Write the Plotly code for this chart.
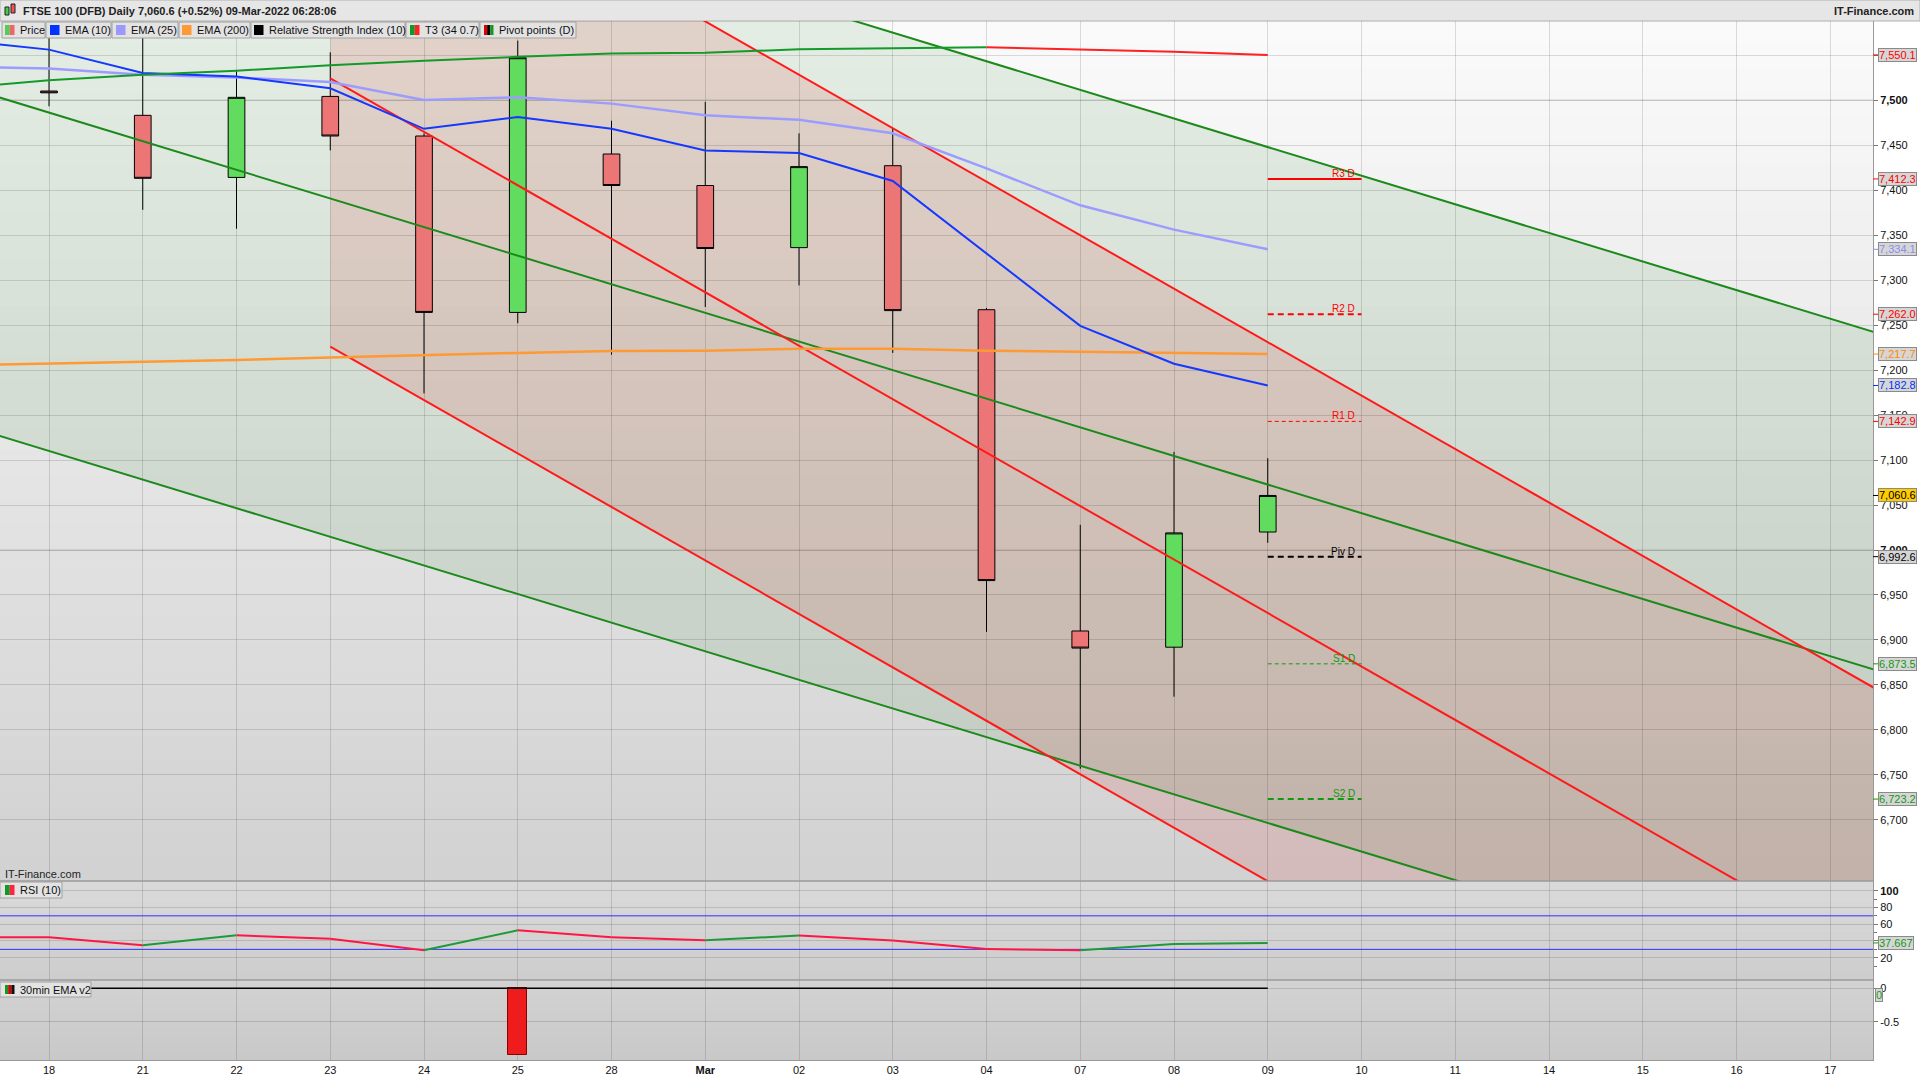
import plotly.graph_objects as go

# ------------------------------------------------------------------ data
x_labels = ["18", "21", "22", "23", "24", "25", "28", "Mar", "02", "03",
            "04", "07", "08", "09", "10", "11", "14", "15", "16", "17"]

# daily candles, 18 Feb .. 09 Mar 2022 (index 0..13)
candle_open = [7510, 7483, 7414, 7504, 7460, 7264, 7440, 7405, 7336, 7427, 7267, 6910, 6892, 7020]
candle_high = [7572, 7575, 7532, 7553, 7463, 7566, 7477, 7498, 7463, 7469, 7269, 7028, 7109, 7102]
candle_low = [7493, 7378, 7357, 7444, 7174, 7252, 7217, 7270, 7294, 7219, 6909, 6757, 6837, 7008]
candle_close = [7508, 7413, 7503, 7460, 7264, 7547, 7405, 7335, 7426, 7266, 6966, 6891, 7019, 7060.6]

# indicator series, 17 Feb .. 09 Mar (index -1..13)
ema10 = [7567, 7556, 7530, 7526, 7513, 7468, 7481, 7468, 7444, 7441, 7410, 7330, 7249, 7207, 7182.8]
ema25 = [7537, 7535, 7528, 7525, 7520, 7500, 7503, 7496, 7483, 7478, 7463, 7424, 7383, 7356, 7334.1]
ema200 = [7205.3, 7207.4, 7209, 7211, 7214, 7216.7, 7219, 7221, 7221.5, 7223.7, 7223.7, 7221.5, 7220, 7219, 7217.7]
t3 = [7513, 7522, 7528, 7532.6, 7538.5, 7543.7, 7548, 7551.8, 7552.6, 7556.3, 7557.4, 7558.5, 7556.3, 7553.7, 7550.1]
t3_turn_index = 11  # position in t3 list where colour turns red (04 Mar)
rsi10 = [44.4, 44.4, 34.8, 46.8, 42.7, 28.9, 52.7, 44.4, 40.8, 46.5, 40.7, 30.4, 29.0, 36.4, 37.667]
rsi_levels = [70, 30]
ema_v2 = [0, 0, 0, 0, 0, -1, 0, 0, 0, 0, 0, 0, 0, 0]
ema_v2_base = [0] * 15

# daily pivot points (drawn over 09 Mar -> 10 Mar)
pivot_names = ["R3 D", "R2 D", "R1 D", "Piv D", "S1 D", "S2 D"]
pivot_levels = [7412.3, 7262.0, 7142.9, 6992.6, 6873.5, 6723.2]

# drawn trend channels: anchor (session index, price)
green_ch_x = [-1, 20]
green_upper = [7892.8, 7225.2]
green_middle = [7517.8, 6850.2]
green_lower = [7141.8, 6474.2]
red_ch_x = [3, 20]
red_upper = [7825, 6815.2]
red_middle = [7524, 6514.2]
red_lower = [7226, 6216.2]

major_levels = [7000, 7500]
price_ticks = list(range(6700, 7551, 50))

# --------------------------------------------------------------- helpers
W_PLOT = 1873.0
TOP, BOTTOM = 21.0, 1060.0
H_PLOT = BOTTOM - TOP


def px(x):
    return x / W_PLOT


def py(y):
    return (BOTTOM - y) / H_PLOT


FONT = "Liberation Sans, Arial, sans-serif"
candle_x = list(range(len(candle_open)))
ind_x = list(range(-1, len(candle_open)))

fig = go.Figure()

# candles
fig.add_trace(go.Candlestick(
    x=candle_x, open=candle_open, high=candle_high, low=candle_low, close=candle_close,
    increasing=dict(fillcolor="#62dc5e", line=dict(color="#000000", width=1)),
    decreasing=dict(fillcolor="#ec7676", line=dict(color="#000000", width=1)),
    whiskerwidth=0, hoverinfo="skip"))

# channel lines
for yy in (green_upper, green_middle, green_lower):
    fig.add_trace(go.Scatter(x=green_ch_x, y=yy, mode="lines",
                             line=dict(color="#1b8a1b", width=2), hoverinfo="skip"))
for yy in (red_upper, red_middle, red_lower):
    fig.add_trace(go.Scatter(x=red_ch_x, y=yy, mode="lines",
                             line=dict(color="#ff1a1a", width=2), hoverinfo="skip"))

# moving averages
fig.add_trace(go.Scatter(x=ind_x, y=ema200, mode="lines",
                         line=dict(color="#ff9933", width=2.5), hoverinfo="skip"))
fig.add_trace(go.Scatter(x=ind_x, y=ema25, mode="lines",
                         line=dict(color="#9c9cff", width=2.5), hoverinfo="skip"))
fig.add_trace(go.Scatter(x=ind_x, y=ema10, mode="lines",
                         line=dict(color="#1438ff", width=2), hoverinfo="skip"))
fig.add_trace(go.Scatter(x=ind_x[:t3_turn_index + 1], y=t3[:t3_turn_index + 1], mode="lines",
                         line=dict(color="#139a2a", width=2), hoverinfo="skip"))
fig.add_trace(go.Scatter(x=ind_x[t3_turn_index:], y=t3[t3_turn_index:], mode="lines",
                         line=dict(color="#ff2020", width=2), hoverinfo="skip"))

annotations = []

# pivot lines
piv_style = [("#ff0000", 2, "solid"), ("#ff0000", 2, "6px,4px"), ("#ff0000", 1, "4px,3px"),
             ("#000000", 2, "6px,4px"), ("#119911", 1, "4px,3px"), ("#119911", 2, "6px,4px")]
piv_x = [candle_x[-1], candle_x[-1] + 1]
for name, lv, (col, w, d) in zip(pivot_names, pivot_levels, piv_style):
    fig.add_trace(go.Scatter(x=piv_x, y=[lv, lv], mode="lines",
                             line=dict(color=col, width=w, dash=d), hoverinfo="skip"))
    annotations.append(dict(x=piv_x[1], y=lv, xref="x", yref="y", text=name, showarrow=False,
                            xanchor="right", yanchor="bottom", xshift=-5, yshift=-2,
                            font=dict(family=FONT, size=10, color=col)))

# RSI panel
for lv in rsi_levels:
    fig.add_trace(go.Scatter(x=[-1, 21], y=[lv, lv], mode="lines", yaxis="y2",
                             line=dict(color="#2f2fff", width=1), hoverinfo="skip"))
rx, ry, gx, gy = [], [], [], []
for i in range(len(rsi10) - 1):
    if rsi10[i + 1] > rsi10[i]:
        gx += [ind_x[i], ind_x[i + 1], None]
        gy += [rsi10[i], rsi10[i + 1], None]
    else:
        rx += [ind_x[i], ind_x[i + 1], None]
        ry += [rsi10[i], rsi10[i + 1], None]
fig.add_trace(go.Scatter(x=rx, y=ry, mode="lines", yaxis="y2",
                         line=dict(color="#ff1744", width=2), hoverinfo="skip"))
fig.add_trace(go.Scatter(x=gx, y=gy, mode="lines", yaxis="y2",
                         line=dict(color="#1f9a3a", width=2), hoverinfo="skip"))

# 30min EMA v2 panel
bar_x = [x for x, v in zip(candle_x, ema_v2) if v != 0]
bar_y = [v for v in ema_v2 if v != 0]
fig.add_trace(go.Bar(x=bar_x, y=bar_y, yaxis="y3", width=0.2,
                     marker=dict(color="#ee1c1c", line=dict(color="#8a0000", width=1)),
                     hoverinfo="skip"))
fig.add_trace(go.Scatter(x=ind_x, y=ema_v2_base, mode="lines", yaxis="y3",
                         line=dict(color="#000000", width=1.5), hoverinfo="skip"))

# ---------------------------------------------------------------- shapes
shapes = []


def gradient(yref, c_top, c_bot, n=36):
    for i in range(n):
        t = (i + 0.5) / n
        c = tuple(round(a + (b - a) * t) for a, b in zip(c_top, c_bot))
        shapes.append(dict(type="rect", xref="x domain", yref=yref + " domain",
                           x0=0, x1=1, y0=1 - (i + 1) / n, y1=1 - i / n + 0.001,
                           fillcolor="rgb(%d,%d,%d)" % c, line=dict(width=0), layer="below"))


gradient("y", (251, 251, 251), (209, 209, 209))
gradient("y2", (218, 218, 218), (205, 205, 205), 10)
gradient("y3", (211, 211, 211), (200, 200, 200), 10)


def channel_path(xs, up, lo):
    pts = [(xs[0], up[0]), (xs[1], up[1]), (xs[1], lo[1]), (xs[0], lo[0])]
    return "M " + " L ".join("%s,%s" % p for p in pts) + " Z"


# channel fills (below the candles, in data coordinates)
shapes.append(dict(type="path", xref="x", yref="y",
                   path=channel_path(green_ch_x, green_upper, green_lower),
                   fillcolor="rgba(0,110,0,0.085)", line=dict(width=0), layer="below"))
shapes.append(dict(type="path", xref="x", yref="y",
                   path=channel_path(red_ch_x, red_upper, red_lower),
                   fillcolor="rgba(210,50,40,0.14)", line=dict(width=0), layer="below"))

for lv in major_levels:
    shapes.append(dict(type="line", xref="x domain", yref="y", x0=0, x1=1, y0=lv, y1=lv,
                       line=dict(color="rgba(0,0,0,0.16)", width=1), layer="below"))

# header bar
shapes.append(dict(type="rect", xref="paper", yref="paper", x0=0, x1=px(1920),
                   y0=py(21), y1=py(0), fillcolor="#e6e6e6",
                   line=dict(color="#b0b0b0", width=1), layer="below"))
# panel separators
for yy in (881, 980):
    shapes.append(dict(type="line", xref="paper", yref="paper", x0=0, x1=1,
                       y0=py(yy), y1=py(yy), line=dict(color="#9a9a9a", width=1.5),
                       layer="above"))
# header icon
shapes.append(dict(type="rect", xref="paper", yref="paper", x0=px(5), x1=px(9),
                   y0=py(15), y1=py(7), fillcolor="#44cc44", line=dict(color="#222", width=1),
                   layer="above"))
shapes.append(dict(type="rect", xref="paper", yref="paper", x0=px(11), x1=px(15),
                   y0=py(13), y1=py(4), fillcolor="#ee5555", line=dict(color="#222", width=1),
                   layer="above"))


def legend_item(x0, x1, y0, y1, sw_x, sw_cols, text_x, text):
    shapes.append(dict(type="rect", xref="paper", yref="paper", x0=px(x0), x1=px(x1),
                       y0=py(y1), y1=py(y0), fillcolor="#e3e3e3",
                       line=dict(color="#a0a0a0", width=1), layer="above"))
    sw_w = 9.5 / len(sw_cols)
    for k, c in enumerate(sw_cols):
        shapes.append(dict(type="rect", xref="paper", yref="paper",
                           x0=px(sw_x + k * sw_w), x1=px(sw_x + (k + 1) * sw_w),
                           y0=py(y1 - 3), y1=py(y0 + 3), fillcolor=c,
                           line=dict(width=0), layer="above"))
    annotations.append(dict(x=px(text_x), y=py((y0 + y1) / 2), xref="paper", yref="paper",
                            text=text, showarrow=False, xanchor="left", yanchor="middle",
                            font=dict(family=FONT, size=11, color="#111")))


legend_rows = [
    (2, 45, 5, ["#55cc55", "#ee6666"], 18, "Price"),
    (46, 111, 50, ["#0033ff"], 63, "EMA (10)"),
    (112, 178, 116, ["#9999ff"], 129, "EMA (25)"),
    (179, 250, 182, ["#ff9933"], 195, "EMA (200)"),
    (251, 405, 254, ["#000000"], 267, "Relative Strength Index (10)"),
    (406, 479, 410, ["#119922", "#ff2222"], 423, "T3 (34 0.7)"),
    (480, 576, 484, ["#dd0000", "#000000", "#119922"], 497, "Pivot points (D)"),
]
for x0, x1, sx, cols, tx, t in legend_rows:
    legend_item(x0, x1, 22, 38, sx, cols, tx, t)
legend_item(0, 62, 882, 898, 5, ["#119922", "#ff2244"], 18, "RSI (10)")
legend_item(0, 91, 982, 997, 5, ["#119922", "#dd0000", "#111111"], 18, "30min EMA v2")

# header texts
annotations.append(dict(x=px(21), y=py(10.5), xref="paper", yref="paper", showarrow=False,
                        text="<b>FTSE 100 (DFB) Daily 7,060.6 (+0.52%) 09-Mar-2022 06:28:06</b>",
                        xanchor="left", yanchor="middle",
                        font=dict(family=FONT, size=11, color="#222")))
annotations.append(dict(x=px(1916), y=py(10.5), xref="paper", yref="paper", showarrow=False,
                        text="<b>IT-Finance.com</b>", xanchor="right", yanchor="middle",
                        font=dict(family=FONT, size=11, color="#222")))
annotations.append(dict(x=px(3), y=py(874), xref="paper", yref="paper", showarrow=False,
                        text="IT-Finance.com", xanchor="left", yanchor="middle",
                        font=dict(family=FONT, size=11, color="#222")))

# last-value boxes on the price axis
value_labels = [7550.1, 7412.3, 7334.1, 7262.0, 7217.7, 7182.8, 7142.9, 7060.6, 6992.6, 6873.5, 6723.2]
value_colors = ["#ff0000", "#ff0000", "#8c8cf0", "#ff0000", "#ff8a00", "#0033ff", "#ff0000",
                "#000000", "#000000", "#119911", "#119911"]
for v, c in zip(value_labels, value_colors):
    cur = (v == candle_close[-1])
    shapes.append(dict(type="line", xref="paper", yref="y", x0=1.0, x1=px(1878), y0=v, y1=v,
                       line=dict(color=c, width=1), layer="above"))
    annotations.append(dict(x=px(1878), y=v, xref="paper", yref="y", showarrow=False,
                            text=f"{v:,.1f}", xanchor="left", yanchor="middle",
                            bgcolor="#ffcc00" if cur else "#d6d6d6", bordercolor="#8a8a8a",
                            borderwidth=1, borderpad=0,
                            font=dict(family=FONT, size=11, color=c)))
shapes.append(dict(type="line", xref="paper", yref="y2", x0=1.0, x1=px(1878),
                   y0=rsi10[-1], y1=rsi10[-1], line=dict(color="#119911", width=1), layer="above"))
annotations.append(dict(x=px(1878), y=rsi10[-1], xref="paper", yref="y2", showarrow=False,
                        text=f"{rsi10[-1]:.3f}", xanchor="left", yanchor="middle",
                        bgcolor="#d6d6d6", bordercolor="#8a8a8a", borderwidth=1, borderpad=0,
                        font=dict(family=FONT, size=11, color="#119911")))
annotations.append(dict(x=px(1875), y=ema_v2[-1], xref="paper", yref="y3", showarrow=False,
                        text="0", xanchor="left", yanchor="middle", yshift=-7,
                        bgcolor="#d6d6d6", bordercolor="#8a8a8a", borderwidth=1, borderpad=0,
                        font=dict(family=FONT, size=11, color="#119911")))

# ---------------------------------------------------------------- layout
grid = "rgba(0,0,0,0.13)"
tickfont = dict(family=FONT, size=11, color="#111")
price_text = [("<b>%s</b>" if t in major_levels else "%s") % f"{t:,}" for t in price_ticks]

fig.update_layout(
    width=1920, height=1080,
    margin=dict(l=0, r=47, t=21, b=20),
    paper_bgcolor="#ffffff", plot_bgcolor="#dddddd",
    showlegend=False, hovermode=False, boxgap=0.822, boxgroupgap=0,
    bargap=0,
    xaxis=dict(domain=[0, 1], range=[-0.5227, 19.456], anchor="y3",
               tickvals=list(range(len(x_labels))),
               ticktext=[("<b>%s</b>" % t) if t == "Mar" else t for t in x_labels],
               showgrid=True, gridcolor=grid, gridwidth=1, zeroline=False,
               ticks="", tickfont=tickfont, showline=True, linecolor="#999", linewidth=1,
               rangeslider=dict(visible=False), fixedrange=True),
    yaxis=dict(domain=[py(881), 1], range=[6632.2, 7587.8], side="right", anchor="x",
               tickvals=price_ticks, ticktext=price_text, ticks="outside", ticklen=4,
               tickcolor="#777", showgrid=True, gridcolor=grid, zeroline=False,
               tickfont=tickfont, showline=True, linecolor="#999", linewidth=1),
    yaxis2=dict(domain=[py(980), py(881)], range=[-6.6, 111.6], side="right", anchor="x",
                tickvals=[20, 40, 60, 80, 100], ticktext=["20", "40", "60", "80", "<b>100</b>"],
                ticks="outside", ticklen=4, tickcolor="#777",
                minor=dict(tickvals=[10, 30, 50, 70, 90], ticks="outside", ticklen=3,
                           tickcolor="#777"),
                showgrid=True, gridcolor=grid, zeroline=False, tickfont=tickfont,
                showline=True, linecolor="#999", linewidth=1),
    yaxis3=dict(domain=[0, py(980)], range=[-1.073, 0.124], side="right", anchor="x",
                tickvals=[-0.5, 0], ticktext=["-0.5", "0"], ticks="outside", ticklen=4,
                tickcolor="#777", showgrid=True, gridcolor=grid, zeroline=False,
                tickfont=tickfont, showline=True, linecolor="#999", linewidth=1),
    shapes=shapes, annotations=annotations,
)

fig.write_html("out.html", config={"displayModeBar": False},
               post_script="document.body.style.margin='0px';"
                           "document.body.style.overflow='hidden';")
